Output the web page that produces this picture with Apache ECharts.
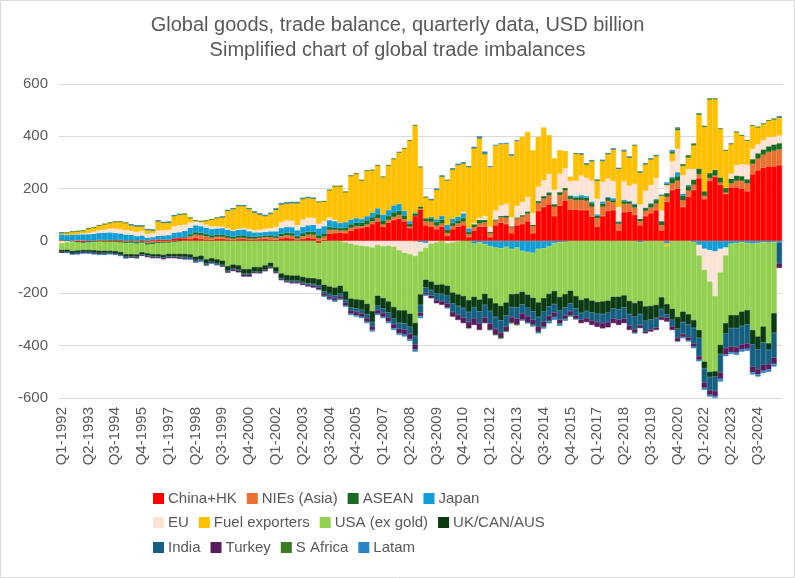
<!DOCTYPE html>
<html>
<head>
<meta charset="utf-8">
<title>Global goods, trade balance</title>
<script src="https://cdn.jsdelivr.net/npm/echarts@6/dist/echarts.min.js"></script>
<style>
html, body { margin: 0; padding: 0; background: #ffffff; }
#chart { width: 795px; height: 578px; }
</style>
</head>
<body>
<div id="chart"></div>
<script>
'use strict';
// quarterly goods balance, USD bn, Q1-1992 .. Q3-2025 (one row per year)
var firstYear = 1992;
var barCount = 135;
var yTicks = [-600, -400, -200, 0, 200, 400, 600];

var chinaHK = [
    2, 1, -2, -4,   -5, -4, -1, 1,   2, 3, 4, 4,   1, 2, -2, 4,   -3, 4, 6, 5,
    5, 10, 12, 10,   8, 12, 8, 6,   5, 8, 8, 6,   4, 7, 8, 6,
    6, 7, 8, 6,   5, 10, 12, 10,   3, 8, 12, 10,   -8, 5, 28, 30,
    32, 30, 40, 48,   50, 55, 65, 75,   55, 70, 80, 85,   75, 50, 95, 120,
    60, 55, 45, 55,   20, 45, 55, 60,   15, 40, 55, 55,   15, 60, 70, 65,
    30, 60, 65, 75,   30, 115, 130, 140,   95, 135, 155, 120,   120, 118, 118, 93,
    55, 95, 115, 118,   40, 110, 112, 100,   60, 95, 106, 118,   40, 150, 195, 200,
    130, 170, 195, 240,   160, 230, 245, 215,   180, 205, 205, 200,   190, 255, 270, 280,
    285, 285, 290
];
var nies = [
    2, 1, 2, 3,   2, 1, 2, 3,   2, 1, 0, -2,   -3, -2, -3, -2,   -5, -6, -4, -3,
    -4, -2, 0, 3,   10, 12, 14, 12,   8, 8, 8, 6,   4, 5, 4, 3,
    3, 5, 6, 8,   6, 8, 10, 10,   6, 10, 12, 14,   10, 12, 14, 12,
    8, 10, 10, 8,   6, 8, 10, 12,   8, 10, 12, 14,   8, 4, -2, 4,
    15, 18, 14, 12,   10, 12, 12, 14,   10, 12, 12, 16,   14, 18, 20, 24,
    22, 26, 28, 30,   26, 30, 32, 34,   36, 40, 38, 40,   36, 38, 36, 38,
    32, 36, 38, 30,   25, 32, 30, 28,   15, 20, 22, 25,   20, 18, 25, 30,
    25, 22, 20, 15,   12, 10, 5, 8,   5, 15, 25, 30,   30, 40, 45, 50,
    55, 60, 60
];
var asean = [
    1, 0, -1, -1,   -2, -1, -2, -2,   -3, -3, -4, -4,   -5, -5, -5, -5,   -6, -6, -5, -4,
    -3, -2, -1, 2,   8, 10, 10, 9,   9, 9, 9, 9,   9, 9, 10, 9,
    8, 7, 7, 8,   8, 10, 10, 11,   10, 12, 12, 12,   12, 12, 12, 10,
    10, 12, 14, 14,   14, 16, 16, 16,   16, 16, 18, 17,   15, 12, 10, 8,
    12, 14, 14, 15,   14, 12, 12, 14,   10, 12, 14, 10,   6, 4, 6, 8,
    4, 4, 6, 8,   6, 8, 10, 12,   10, 12, 10, 12,   10, 12, 12, 14,
    10, 12, 12, 8,   8, 10, 10, 12,   10, 12, 14, 14,   15, 15, 20, 18,
    18, 18, 20, 22,   18, 20, 22, 20,   18, 18, 20, 18,   16, 18, 20, 20,
    22, 24, 24
];
var japan = [
    20, 21, 22, 23,   24, 25, 26, 27,   28, 29, 27, 25,   24, 22, 19, 17,   13, 11, 14, 16,
    18, 22, 22, 24,   25, 26, 25, 24,   24, 23, 24, 22,   22, 22, 22, 20,
    16, 14, 14, 15,   18, 22, 22, 22,   22, 24, 24, 26,   26, 28, 26, 24,
    20, 20, 18, 18,   14, 16, 18, 22,   22, 22, 26, 26,   18, 10, 4, -5,
    -8, 5, 10, 15,   18, 16, 14, 18,   15, -10, -5, -12,   -20, -25, -28, -22,
    -30, -25, -38, -42,   -45, -30, -28, -20,   -8, -5, -3, 2,   5, 8, 6, 6,
    5, 8, 4, 8,   2, 6, 0, 3,   -5, 0, 2, 4,   2, -10, 5, 15,
    8, 5, -5, -15,   -30, -35, -40, -30,   -25, -10, -8, -5,   -8, -10, -8, -5,
    -6, -4, -5
];
var eu = [
    -8, -5, -2, 1,   3, 5, 8, 10,   12, 14, 16, 16,   16, 15, 16, 17,   14, 15, 20, 20,
    20, 24, 26, 24,   20, 16, 14, 12,   10, 8, 6, 6,   2, 4, 6, 8,
    8, 10, 12, 12,   18, 22, 25, 25,   20, 28, 30, 26,   18, 20, 10, 5,
    0, -5, -10, -15,   -18, -20, -25, -15,   -20, -18, -22, -35,   -45, -50, -55, -35,
    -18, -10, -5, 0,   -8, -5, -2, 5,   0, 5, 8, 15,   20, 35, 40, 45,
    35, 45, 50, 55,   45, 55, 60, 70,   55, 70, 75, 55,   60, 75, 70, 80,
    60, 75, 70, 65,   55, 70, 60, 75,   55, 65, 70, 80,   40, 30, 60, 90,
    70, 60, 40, -40,   -80, -120, -170, -90,   -30, 20, 40, 45,   55, 40, 35, 35,
    35, 30, 30
];
var fuelExporters = [
    6, 8, 11, 10,   10, 16, 15, 18,   20, 22, 26, 28,   28, 22, 22, 19,   16, 11, 36, 29,
    28, 40, 41, 40,   17, 1, 4, 14,   26, 32, 36, 67,   82, 87, 84, 77,
    69, 59, 49, 55,   65, 68, 65, 67,   84, 79, 75, 74,   83, 74, 104, 128,
    139, 115, 167, 169,   148, 173, 161, 163,   143, 170, 177, 196,   237, 307, 332, 150,
    80, 65, 113, 150,   170, 189, 198, 186,   233, 286, 304, 237,   227, 248, 235, 229,
    235, 247, 249, 249,   240, 190, 202, 149,   120, 90, 66, 17,   102, 80, 50, 74,
    68, 80, 93, 121,   146, 115, 107, 147,   122, 101, 98, 84,   55, -10, 29, 70,
    35, 43, 90, 205,   245, 280, 270, 185,   142, 112, 126, 109,   92, 87, 64, 61,
    62, 65, 67
];
var usaExGold = [
    -26, -28, -33, -31,   -27, -29, -32, -35,   -34, -34, -34, -36,   -42, -43, -41, -36,   -33, -38, -41, -46,
    -42, -45, -48, -49,   -51, -60, -56, -70,   -66, -70, -75, -96,   -90, -93, -107, -107,
    -99, -100, -93, -83,   -100, -124, -130, -132,   -132, -137, -141, -142,   -138, -167, -174, -178,
    -171, -188, -210, -208,   -207, -220, -243, -194,   -198, -213, -230, -230,   -220, -228, -256, -164,
    -122, -145, -162, -166,   -163, -192, -202, -210,   -226, -203, -219, -190,   -199, -213, -220, -213,
    -173, -177, -156, -163,   -172, -205, -190, -182,   -183, -209, -200, -190,   -210, -225, -219, -228,
    -233, -231, -228, -213,   -213, -208, -229, -237,   -224, -250, -248, -244,   -215, -221, -259, -290,
    -270, -280, -297, -285,   -351, -345, -288, -277,   -259, -273, -275, -265,   -256, -330, -357, -322,
    -385, -272, null
];
var ukCanAus = [
    -8, -8, -9, -9,   -8, -8, -9, -9,   -9, -8, -9, -9,   -10, -9, -9, -8,   -8, -9, -9, -10,
    -10, -10, -11, -12,   -12, -13, -14, -15,   -14, -15, -16, -17,   -16, -17, -18, -18,
    -18, -18, -17, -16,   -17, -18, -20, -20,   -20, -20, -21, -22,   -24, -26, -28, -30,
    -30, -32, -34, -35,   -38, -40, -42, -38,   -40, -42, -45, -48,   -50, -50, -50, -40,
    -30, -32, -34, -36,   -38, -42, -44, -46,   -45, -40, -45, -42,   -48, -52, -55, -50,
    -50, -52, -48, -50,   -52, -55, -52, -48,   -50, -52, -50, -48,   -48, -50, -48, -45,
    -45, -48, -46, -45,   -48, -46, -50, -52,   -50, -55, -52, -50,   -45, -40, -42, -45,
    -40, -38, -30, -30,   -25, -20, -20, -35,   -40, -50, -50, -55,   -55, -55, -50, -60,
    -25, -75, null
];
var india = [
    -1, -1, -1, -1,   -1, -1, -1, -1,   -2, -2, -2, -2,   -2, -2, -3, -3,   -3, -3, -3, -3,
    -3, -3, -3, -3,   -2, -2, -2, -3,   -2, -3, -3, -3,   -3, -3, -4, -4,
    -3, -3, -3, -3,   -3, -4, -4, -5,   -5, -5, -6, -7,   -7, -8, -10, -10,
    -10, -11, -12, -13,   -14, -15, -16, -17,   -17, -19, -20, -22,   -24, -27, -32, -30,
    -20, -22, -25, -28,   -30, -32, -34, -36,   -38, -42, -45, -48,   -48, -46, -48, -42,
    -38, -42, -34, -32,   -32, -36, -38, -36,   -32, -34, -30, -30,   -26, -25, -28, -30,
    -32, -35, -36, -38,   -40, -42, -45, -48,   -42, -40, -38, -36,   -30, -12, -25, -35,
    -45, -50, -60, -70,   -55, -50, -55, -70,   -55, -70, -72, -70,   -72, -85, -75, -85,
    -55, -95, -80
];
var turkey = [
    -2, -2, -2, -3,   -3, -3, -4, -4,   -2, -1, -1, -2,   -3, -3, -3, -3,   -4, -4, -4, -4,
    -4, -4, -5, -5,   -4, -4, -3, -3,   -2, -3, -4, -5,   -6, -7, -7, -7,
    -3, -2, -2, -2,   -3, -4, -4, -5,   -5, -6, -6, -7,   -8, -9, -9, -10,
    -10, -11, -12, -13,   -13, -14, -14, -14,   -15, -16, -17, -18,   -19, -20, -20, -13,
    -8, -10, -12, -14,   -16, -18, -20, -22,   -25, -26, -26, -22,   -24, -22, -20, -18,
    -22, -24, -25, -24,   -20, -22, -20, -20,   -18, -16, -15, -16,   -14, -14, -15, -18,
    -18, -20, -20, -18,   -20, -18, -16, -14,   -12, -8, -8, -10,   -12, -15, -14, -14,
    -12, -12, -12, -14,   -20, -18, -20, -25,   -25, -22, -22, -20,   -21, -22, -20, -24,
    -20, -24, -18
];
var sAfrica = [
    1, 1, 1, 1,   1, 1, 1, 1,   1, 1, 1, 1,   1, 1, 1, 1,   1, 1, 1, 1,
    1, 1, 1, 1,   1, 1, 1, 1,   1, 1, 1, 1,   1, 1, 1, 1,
    1, 1, 1, 1,   1, 1, 1, 1,   1, 1, 1, 1,   1, 1, 1, 1,
    1, 1, 1, 1,   1, 2, 2, 2,   2, 2, 2, 2,   2, 2, 2, 2,
    1, 1, 1, 1,   1, 1, 1, 1,   1, 1, 1, 1,   -1, -1, -1, -1,
    -1, -1, -1, -1,   -1, -1, -1, -1,   -1, -1, -1, -1,   2, 2, 2, 2,
    2, 2, 2, 2,   2, 2, 2, 2,   2, 2, 2, 2,   3, 6, 8, 8,
    8, 10, 8, 6,   5, 5, 3, 2,   3, 3, 2, 3,   3, 3, 3, 3,
    3, 4, 4
];
var latam = [
    0, -1, -1, -2,   -2, -2, -2, -2,   -3, -3, -3, -2,   -1, 0, 0, 0,   1, 1, 1, 1,
    2, 1, 0, -1,   -3, -4, -5, -4,   -3, -1, 0, 1,   1, 2, 2, 1,
    1, 2, 3, 3,   4, 4, 3, 4,   4, 3, 2, 2,   -2, -3, -4, -4,
    -4, -4, -5, -5,   -5, -5, -6, -5,   -5, -6, -6, -6,   -7, -7, -8, -8,
    -4, 2, 3, 2,   -2, 2, 3, 2,   2, 4, 6, 8,   4, 2, 2, 4,
    6, 3, 0, -3,   -5, -4, -6, -8,   -10, -8, -6, -4,   -2, 2, 3, 2,
    3, 2, 1, 2,   0, 3, 1, -2,   1, 2, 2, 1,   1, 5, 6, 3,
    -5, -4, -6, -6,   -8, -7, -7, -10,   -6, -7, -8, -8,   -8, -8, -8, -9,
    -9, -10, 0
];

var seriesNames = ['China+HK', 'NIEs (Asia)', 'ASEAN', 'Japan', 'EU', 'Fuel exporters',
    'USA (ex gold)', 'UK/CAN/AUS', 'India', 'Turkey', 'S Africa', 'Latam'];
var seriesColors = ['#ff0000', '#e97132', '#196b24', '#0f9ed5', '#fbe3d6', '#ffc000',
    '#92d050', '#0c3a12', '#156082', '#581c5c', '#3b7d23', '#2a86c6'];
var seriesData = [chinaHK, nies, asean, japan, eu, fuelExporters,
    usaExGold, ukCanAus, india, turkey, sAfrica, latam];

// x categories Q1-1992 ...
var quarters = [];
for (var i = 0; i < barCount; i++) {
    quarters.push('Q' + (i % 4 + 1) + '-' + (firstYear + Math.floor(i / 4)));
}

var txtColor = '#595959';
var fontFam = 'Liberation Sans, Arial, sans-serif';

function legendRow(names, top) {
    return {
        data: names,
        left: 148,
        top: top,
        orient: 'horizontal',
        icon: 'rect',
        itemWidth: 9,
        itemHeight: 9,
        itemGap: 10,
        selectedMode: false,
        textStyle: { color: txtColor, fontSize: 15, fontFamily: fontFam, width: 102, overflow: 'none' }
    };
}

var series = [];
for (var s = 0; s < seriesNames.length; s++) {
    series.push({
        name: seriesNames[s],
        type: 'bar',
        stack: 'total',
        barCategoryGap: '0%',
        // thin border in the same colour closes the hairline seams between bars
        itemStyle: { color: seriesColors[s], borderColor: seriesColors[s], borderWidth: 0.6 },
        emphasis: { disabled: true },
        data: seriesData[s]
    });
}

var option = {
    animation: false,
    backgroundColor: '#ffffff',
    color: seriesColors,
    title: {
        text: 'Global goods, trade balance, quarterly data, USD billion\nSimplified chart of global trade imbalances',
        left: 'center',
        top: 8,
        textStyle: { color: txtColor, fontSize: 20, fontWeight: 'normal', fontFamily: fontFam, lineHeight: 25 }
    },
    legend: [
        legendRow(seriesNames.slice(0, 4), 486),
        legendRow(seriesNames.slice(4, 8), 510),
        legendRow(seriesNames.slice(8, 12), 535)
    ],
    grid: { left: 59, right: 13, top: 84, bottom: 180 },
    xAxis: {
        type: 'category',
        data: quarters,
        axisLine: { show: false, onZero: false },
        axisTick: { show: false },
        axisLabel: { interval: 4, rotate: 90, margin: 9, color: txtColor, fontSize: 15, fontFamily: fontFam }
    },
    yAxis: {
        type: 'value',
        min: yTicks[0],
        max: yTicks[yTicks.length - 1],
        interval: 200,
        axisLine: { show: false },
        axisTick: { show: false },
        axisLabel: { margin: 11, color: txtColor, fontSize: 15, fontFamily: fontFam },
        splitLine: { lineStyle: { color: '#d9d9d9', width: 1 } }
    },
    graphic: [{
        type: 'rect',
        shape: { x: 0.5, y: 0.5, width: 794, height: 577 },
        style: { fill: 'none', stroke: '#d9d9d9', lineWidth: 1 },
        silent: true
    }],
    series: series
};

var myChart = echarts.init(document.getElementById('chart'));
myChart.setOption(option);
</script>
</body>
</html>
